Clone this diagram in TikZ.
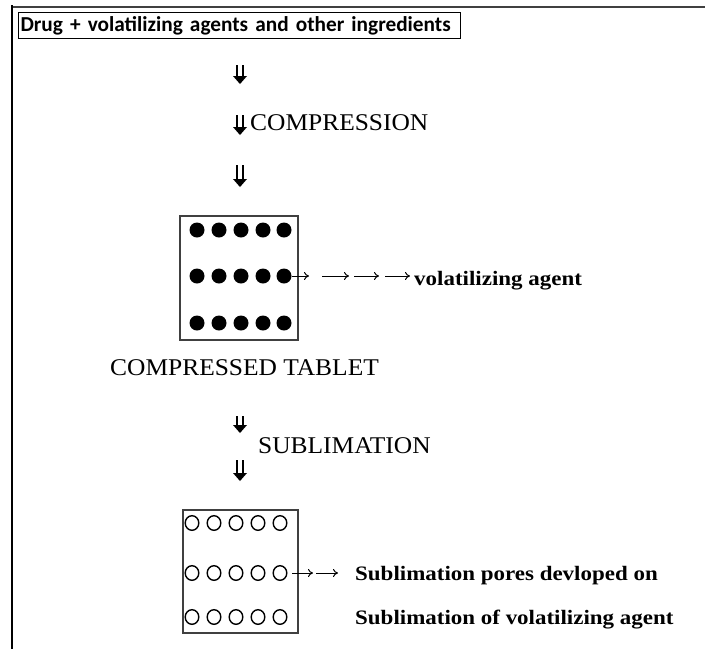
\documentclass[tikz,border=0pt]{standalone}
\usepackage{fontspec}
\setmainfont{Liberation Serif}
\newfontfamily\titlefont{Carlito}
\newfontfamily\capsfont[FakeStretch=1.06]{Liberation Serif}
\newfontfamily\labelfont[FakeStretch=1.12]{Liberation Serif}
\usetikzlibrary{arrows.meta,calc}
\begin{document}
\begin{tikzpicture}[x=1pt,y=-1pt,
  dblbar/.style={line width=2pt},
  thinarrow/.style={line width=1pt, -{To[length=5pt,width=8pt]}},
  capslabel/.style={inner sep=0pt, anchor=base west, font=\capsfont\fontsize{24}{26}\selectfont},
  boldlabel/.style={inner sep=0pt, anchor=base west, font=\labelfont\bfseries\fontsize{20.5}{22}\selectfont},
  tabletbox/.style={draw=black!75, line width=1.2pt, inner sep=0pt},
  pore/.style={draw, line width=1.4pt}]
\useasboundingbox (0,0) rectangle (705,649);
% page border lines
\draw[line width=2pt, black!75] (12,7) -- (705,7);
\draw[line width=2pt] (12,5) -- (12,649);
% title
\node[draw, line width=1pt, inner sep=3pt, text width=436pt, minimum height=26pt, align=left,
      anchor=north west, font=\titlefont\bfseries\fontsize{21.3}{22}\selectfont] (title) at (18,12)
      {\hspace{-1pt}Drug + volatilizing agents and other ingredients};
% double arrows (bold down double arrows)
\coordinate (a1s) at (240,65);  \coordinate (a1e) at (240,84);
\coordinate (a2s) at (240,115); \coordinate (a2e) at (240,135);
\coordinate (a3s) at (240,165); \coordinate (a3e) at (240,187);
\coordinate (a4s) at (240,416); \coordinate (a4e) at (240,433);
\coordinate (a5s) at (240,460); \coordinate (a5e) at (240,481);
\foreach \s/\e in {a1s/a1e,a2s/a2e,a3s/a3e,a4s/a4e,a5s/a5e}{
  \draw[dblbar] ($(\s)+(-2.6,0)$) -- ($(\e)+(-2.6,-6)$);
  \draw[dblbar] ($(\s)+(2.6,0)$) -- ($(\e)+(2.6,-6)$);
  \fill ($(\e)+(-7,-8)$) -- ($(\e)+(7,-8)$) -- (\e) -- cycle;
}
\node[capslabel] (compression) at (250,130) {COMPRESSION};
% tablet 1
\node[tabletbox, minimum width=118pt, minimum height=124pt] (tab1) at (239,278) {};
\foreach \x in {197,219,241,263,284}
  \foreach \y in {230,276,323}
    \fill (\x,\y) circle (7.5);
\coordinate (v1s) at (292,276); \coordinate (v1e) at (309,276);
\coordinate (v2s) at (322,276); \coordinate (v2e) at (349,276);
\coordinate (v3s) at (354,276); \coordinate (v3e) at (379,276);
\coordinate (v4s) at (385,276); \coordinate (v4e) at (410,276);
\foreach \s/\e in {v1s/v1e,v2s/v2e,v3s/v3e,v4s/v4e}
  \draw[thinarrow] (\s) -- (\e);
\node[boldlabel] (vol) at (414,285) {volatilizing agent};
\node[capslabel] (ctab) at (110,375) {COMPRESSED TABLET};
\node[capslabel] (subl) at (258,453) {SUBLIMATION};
% tablet 2
\node[tabletbox, minimum width=115pt, minimum height=123pt] (tab2) at (240.5,571.5) {};
\foreach \x in {192,214,236,258,280}
  \foreach \y in {523,573,617}
    \draw[pore] (\x,\y) ellipse (6.8 and 7.3);
\coordinate (p1s) at (292,573); \coordinate (p1e) at (313,573);
\coordinate (p2s) at (316,573); \coordinate (p2e) at (338,573);
\foreach \s/\e in {p1s/p1e,p2s/p2e}
  \draw[thinarrow] (\s) -- (\e);
\node[boldlabel] (pores) at (355,580) {Sublimation pores devloped on};
\node[boldlabel] (sublva) at (355,624) {Sublimation of volatilizing agent};
\end{tikzpicture}
\end{document}
